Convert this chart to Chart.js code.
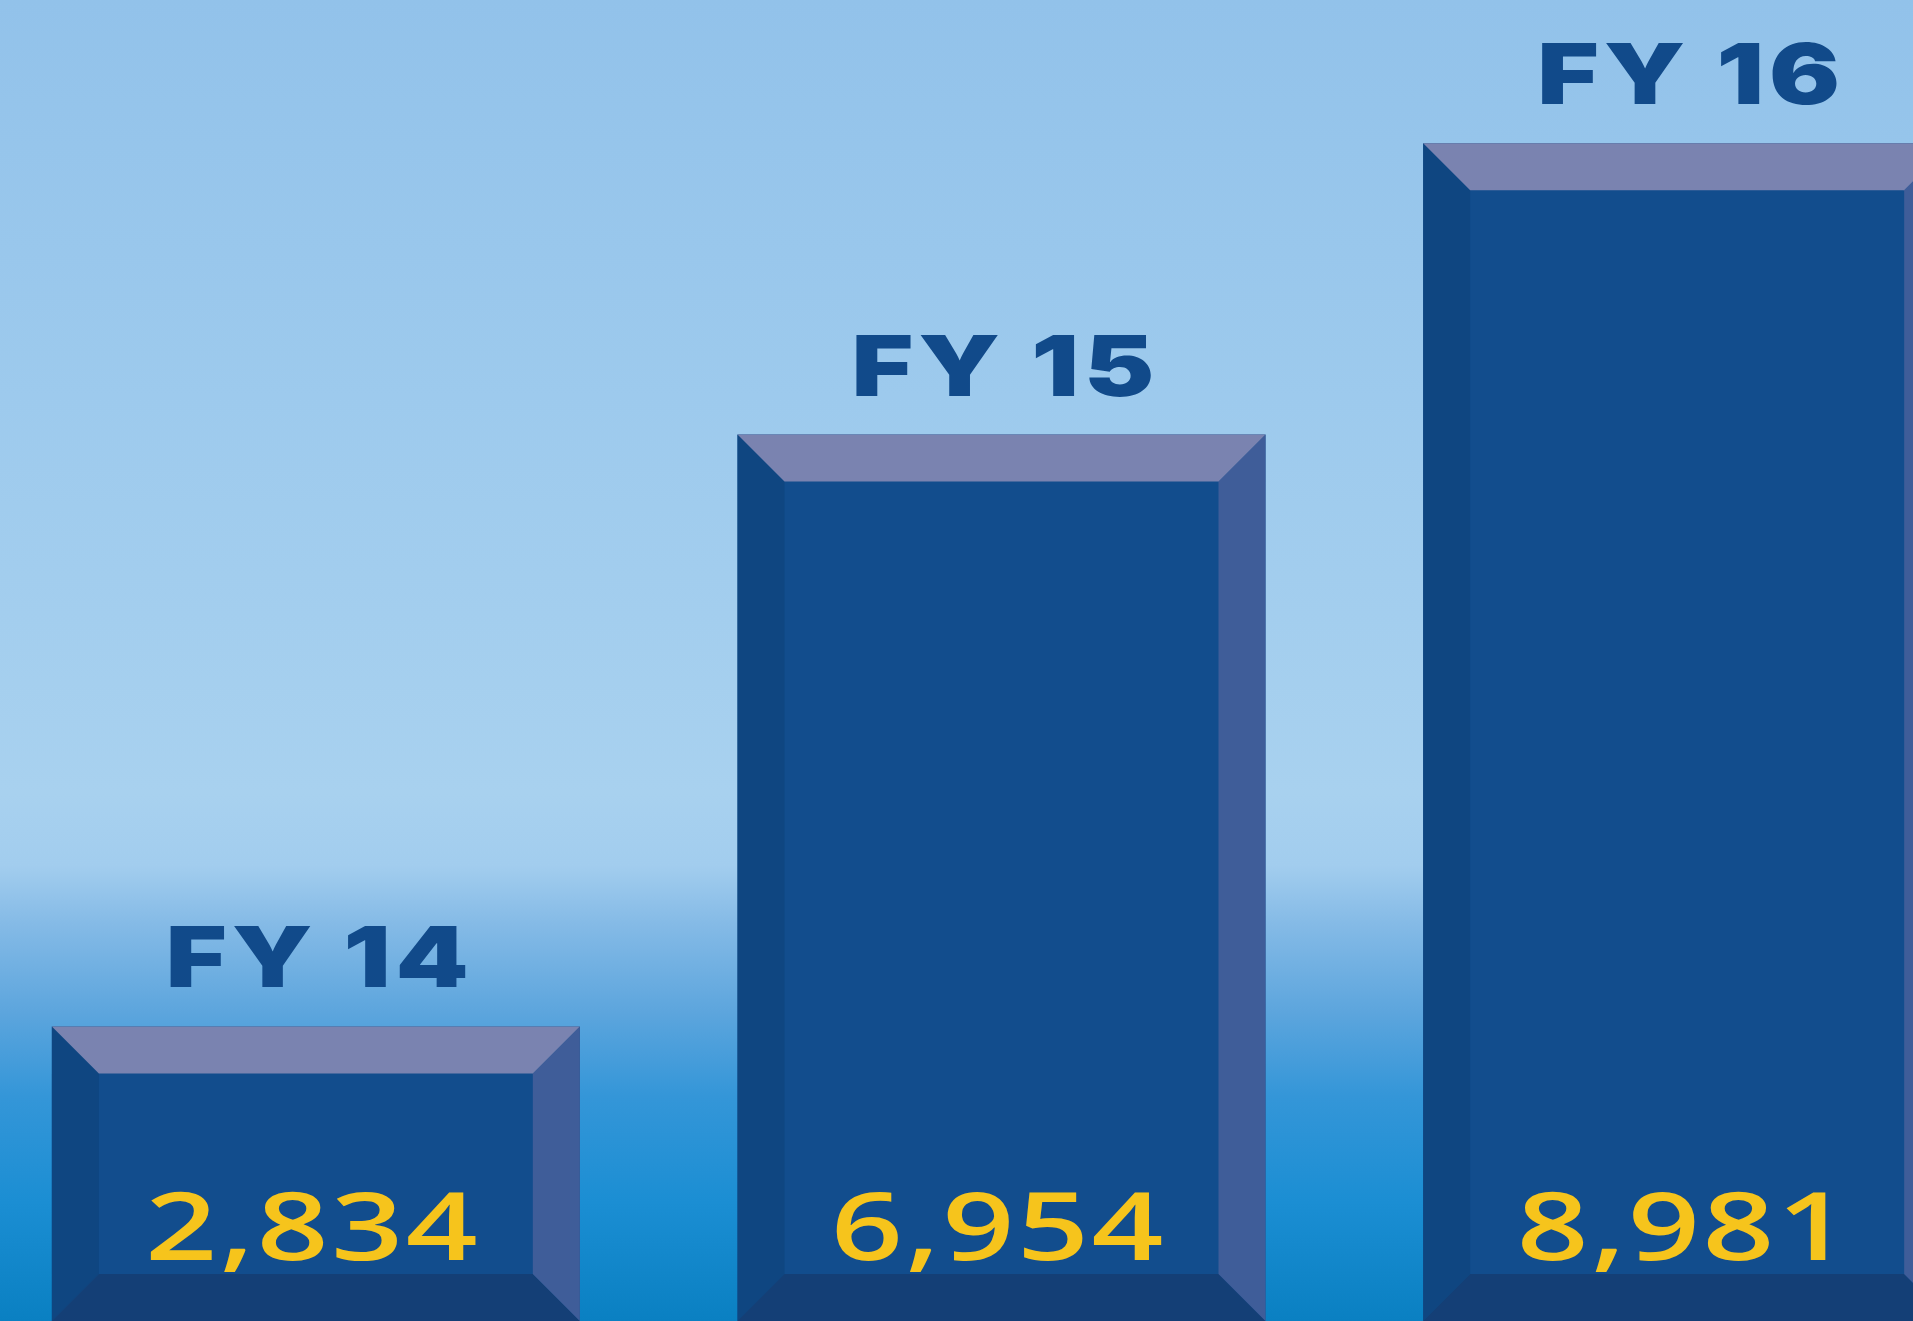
<!DOCTYPE html>
<html>
<head>
<meta charset="utf-8">
<script src="https://cdn.jsdelivr.net/npm/chart.js@4.4.1/dist/chart.umd.min.js"></script>
<style>
  html, body { margin: 0; padding: 0; overflow: hidden; width: 1913px; height: 1321px; background: #0A80C2; }
  #wrap { position: absolute; left: -27px; top: 0; width: 2057px; height: 1321px; }
</style>
</head>
<body>
<div id="wrap"><canvas id="chart"></canvas></div>
<script>
const categories = ["FY 14", "FY 15", "FY 16"]
const values = [2834, 6954, 8981]
const valueLabels = values.map(v => v.toLocaleString("en-US"))
const yMin = 783
const yMax = 9979

// fill a polygon
function poly(ctx, pts, color) {
    ctx.beginPath()
    ctx.moveTo(pts[0][0], pts[0][1])
    for (let i = 1; i < pts.length; i++) ctx.lineTo(pts[i][0], pts[i][1])
    ctx.closePath()
    ctx.fillStyle = color
    ctx.fill()
}

// wide text: stretch horizontally to a given width
function wideText(ctx, text, x, y, font, color, targetWidth, spacing) {
    ctx.save()
    ctx.font = font
    ctx.letterSpacing = spacing + "px"
    ctx.fillStyle = color
    ctx.textAlign = "center"
    ctx.textBaseline = "alphabetic"
    const w = ctx.measureText(text).width
    ctx.translate(x, y)
    ctx.scale(targetWidth / w, 1)
    ctx.fillText(text, 0, 0)
    ctx.restore()
}

const bevelPlugin = {
    id: "bevel",
    beforeDraw(chart) {
        const { ctx, width, height } = chart
        const g = ctx.createLinearGradient(0, 0, 0, height)
        g.addColorStop(0, "#92C2EA")
        g.addColorStop(0.3, "#9DCAED")
        g.addColorStop(0.6, "#A8D1EF")
        g.addColorStop(0.655, "#A2CDEE")
        g.addColorStop(0.70, "#84BAE6")
        g.addColorStop(0.767, "#5CA5DD")
        g.addColorStop(0.83, "#3496D8")
        g.addColorStop(0.91, "#1B8ED3")
        g.addColorStop(1, "#0A80C2")
        ctx.save()
        ctx.fillStyle = g
        ctx.fillRect(0, 0, width, height)
        ctx.restore()
    },
    afterDatasetsDraw(chart) {
        const ctx = chart.ctx
        const meta = chart.getDatasetMeta(0)
        meta.data.forEach((bar, i) => {
            const p = bar.getProps(["x", "y", "base", "width"], true)
            const l = p.x - p.width / 2
            const r = p.x + p.width / 2
            const t = p.y
            const b = p.base
            const d = 47
            poly(ctx, [[l, t], [l + d, t + d], [l + d, b - d], [l, b]], "#0F4681")
            poly(ctx, [[l, b], [r, b], [r - d, b - d], [l + d, b - d]], "#143F76")
            poly(ctx, [[r, t], [r, b], [r - d, b - d], [r - d, t + d]], "#3F5D99")
            poly(ctx, [[l, t], [r, t], [r - d, t + d], [l + d, t + d]], "#7A83B0")

            wideText(ctx, categories[i], p.x + 4, t - 39, '900 84px Inter', "#114A8A", 308, 4)
            wideText(ctx, valueLabels[i], p.x - 3, b - 61, '600 94px "Open Sans"', "#F6C41C", 335, 2)
        })
    }
}

const chart = new Chart(document.getElementById("chart").getContext("2d"), {
    type: "bar",
    data: {
        labels: categories,
        datasets: [{
            data: values,
            base: yMin,
            backgroundColor: "#124D8D",
            borderWidth: 0,
            categoryPercentage: 1,
            barPercentage: 0.77
        }]
    },
    options: {
        responsive: true,
        maintainAspectRatio: false,
        animation: false,
        events: [],
        layout: { padding: 0 },
        plugins: {
            legend: { display: false },
            tooltip: { enabled: false },
            title: { display: false }
        },
        scales: {
            x: { display: false, offset: true, grid: { display: false } },
            y: { display: false, min: yMin, max: yMax, grid: { display: false } }
        }
    },
    plugins: [bevelPlugin]
})
</script>
</body>
</html>
